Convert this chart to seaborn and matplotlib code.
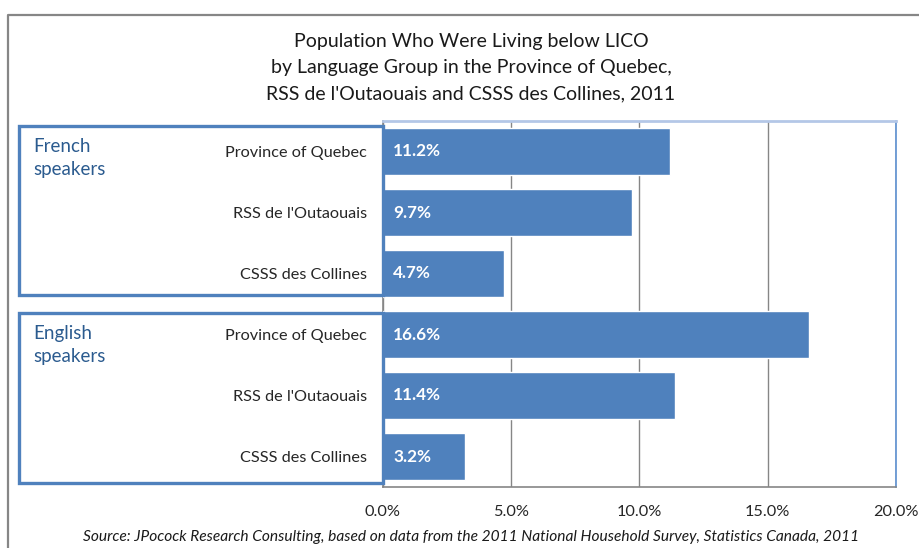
import matplotlib
matplotlib.use("Agg")
import matplotlib.pyplot as plt
import matplotlib.transforms as mtransforms
from matplotlib.patches import Rectangle
from matplotlib.lines import Line2D
from matplotlib.ticker import FixedLocator, PercentFormatter
import pandas as pd
import seaborn as sns

# Share of population living below LICO, 2011 (%)
groups = ["French speakers", "French speakers", "French speakers",
          "English speakers", "English speakers", "English speakers"]
regions = ["Province of Quebec", "RSS de l'Outaouais", "CSSS des Collines",
           "Province of Quebec", "RSS de l'Outaouais", "CSSS des Collines"]
values = [11.2, 9.7, 4.7, 16.6, 11.4, 3.2]
group_labels = ["French\nspeakers", "English\nspeakers"]
x_ticks = [0, 5, 10, 15, 20]

title = ("Population Who Were Living below LICO\n"
         "by Language Group in the Province of Quebec,\n"
         "RSS de l'Outaouais and CSSS des Collines, 2011")
source = ("Source: JPocock Research Consulting, based on data from the 2011 "
          "National Household Survey, Statistics Canada, 2011")

BAR = "#4F81BD"
GROUP_TXT = "#2B5B8F"
TXT = "#262626"

sns.set_theme(style="white")
plt.rcParams["font.family"] = ["Lato", "DejaVu Sans"]

df = pd.DataFrame({
    "key": [f"{g}|{r}" for g, r in zip(groups, regions)],
    "region": regions,
    "value": values,
})

W, H = 920, 548
fig = plt.figure(figsize=(W / 100, H / 100), dpi=100)
ax = fig.add_axes([383 / W, 1 - 487 / H, (896 - 383) / W, (487 - 121) / H])

sns.barplot(data=df, x="value", y="key", orient="h", color=BAR,
            saturation=1, width=0.78, ax=ax, zorder=3)

ax.set_xlim(0, 20)
ax.set_xticks(x_ticks)
ax.xaxis.set_major_formatter(PercentFormatter(decimals=1))
ax.set_yticks(range(len(regions)))
ax.set_yticklabels(regions, fontsize=11.7, color=TXT)
ax.set_xlabel("")
ax.set_ylabel("")
ax.tick_params(axis="x", labelsize=11.7, labelcolor=TXT, length=5,
               color="#868686", direction="out", pad=8)
ax.tick_params(axis="y", which="major", length=0, pad=11.5)
ax.yaxis.set_minor_locator(FixedLocator([i + 0.5 for i in range(-1, len(regions))]))
ax.tick_params(axis="y", which="minor", length=6, color="#868686", direction="out")

ax.grid(axis="x", color="#868686", linewidth=1.0, zorder=0)
ax.set_axisbelow(True)
for side in ("left", "bottom"):
    ax.spines[side].set_color("#868686")
    ax.spines[side].set_linewidth(1.2)
ax.spines["top"].set_color("#B4C7E7")
ax.spines["top"].set_linewidth(2.0)
ax.spines["right"].set_color("#5B8FD0")
ax.spines["right"].set_linewidth(1.2)

# value labels inside the bars
for i, v in enumerate(values):
    ax.text(0.4, i, f"{v:.1f}%", color="white", fontsize=12.3,
            fontweight="bold", va="center", ha="left", zorder=5)

# group frames: x in figure pixels, y in category units
trans = mtransforms.blended_transform_factory(fig.transFigure, ax.transData)
spans = [(-0.42, 2.35), (2.65, 5.43)]
for (y0, y1), lab in zip(spans, group_labels):
    rect = Rectangle((19 / W, y0), (383 - 19) / W, y1 - y0, transform=trans,
                     fill=False, edgecolor=BAR, linewidth=2.4,
                     clip_on=False, zorder=6)
    fig.add_artist(rect)
    fig.text(33 / W, y0 + 0.2, lab, transform=trans, fontsize=13.5,
             color=GROUP_TXT, va="top", ha="left", linespacing=1.43)

fig.text(471 / W, 1 - 33 / H, title, ha="center", va="top", fontsize=14,
         color="#1a1a1a", linespacing=1.65)
fig.text(471 / W, 1 - 537 / H, source, ha="center", va="center",
         fontsize=11.15, style="italic", color="#1a1a1a")

# outer chart border
fig.add_artist(Line2D([8 / W, 8 / W, 1.0], [0.0, 1 - 15 / H, 1 - 15 / H],
                      transform=fig.transFigure, color="#868686", linewidth=1.6))

fig.savefig("out.png", dpi=100)
